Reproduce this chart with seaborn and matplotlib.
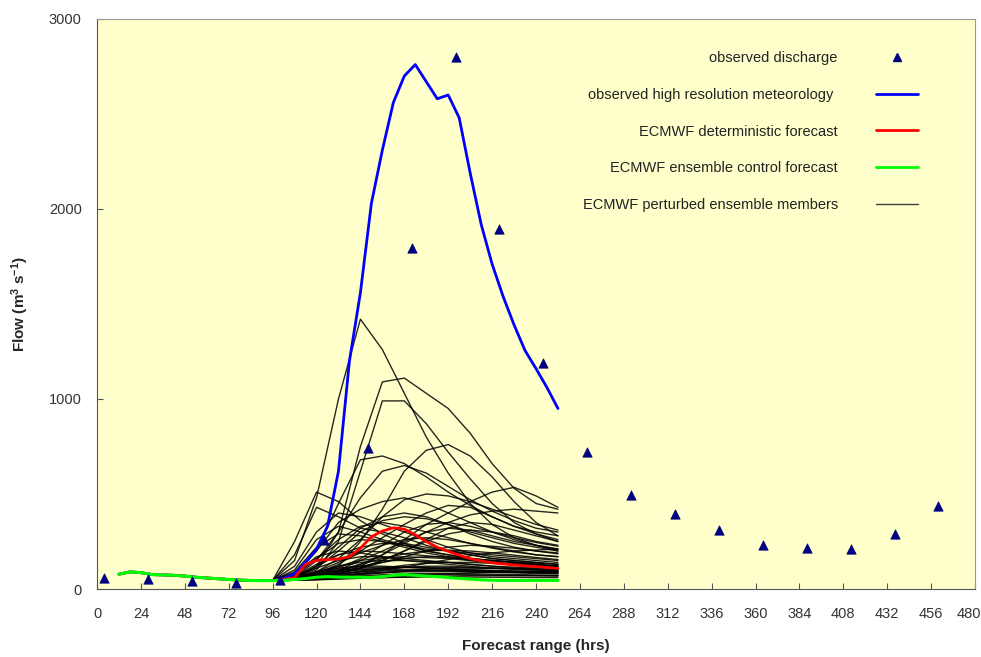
import numpy as np
import pandas as pd
import matplotlib
matplotlib.use("Agg")
import matplotlib.pyplot as plt
import matplotlib.transforms as mtransforms
from matplotlib.lines import Line2D
import seaborn as sns

# observed discharge (triangles)
obs_t = [4, 28, 52, 76, 100, 124, 148, 172, 196, 220, 244, 268, 292, 316, 340, 364, 388, 412, 436, 460]
obs_q = [58, 55, 42, 30, 48, 258, 742, 1796, 2800, 1896, 1191, 721, 495, 395, 310, 232, 216, 210, 289, 437]

# common spin-up part (12h - 90h)
base_t = [12, 18, 24, 30, 36, 42, 48, 54, 60, 66, 72, 78, 84, 90]
base_q = [78, 90, 86, 76, 74, 72, 68, 62, 58, 54, 50, 47, 45, 44]

# forecast part, 6-hourly
fc_t = [96, 102, 108, 114, 120, 126, 132, 138, 144, 150, 156, 162, 168, 174, 180,
        186, 192, 198, 204, 210, 216, 222, 228, 234, 240, 246, 252]
hires_q = [45, 55, 80, 140, 210, 330, 620, 1200, 1560, 2030, 2310, 2560, 2700, 2760, 2670,
           2580, 2600, 2480, 2190, 1920, 1710, 1540, 1390, 1255, 1160, 1060, 950]
determ_q = [45, 50, 60, 130, 150, 155, 158, 170, 215, 275, 305, 322, 315, 285, 250,
            220, 198, 178, 160, 148, 138, 132, 126, 122, 118, 113, 108]
control_q = [44, 45, 50, 55, 62, 65, 63, 62, 62, 60, 65, 72, 76, 72, 68,
             65, 60, 56, 52, 48, 46, 45, 45, 45, 45, 45, 45]

# perturbed ensemble members, 12-hourly
mem_t = [96, 108, 120, 132, 144, 156, 168, 180, 192, 204, 216, 228, 240, 252]
members = [
    [45, 150, 480, 1000, 1420, 1260, 1030, 800, 610, 450, 340, 270, 230, 200],
    [45, 60, 120, 300, 750, 1090, 1110, 1030, 950, 820, 660, 530, 450, 420],
    [45, 55, 100, 250, 620, 990, 990, 870, 720, 580, 450, 350, 290, 250],
    [45, 50, 70, 120, 250, 420, 620, 730, 760, 700, 590, 460, 350, 280],
    [45, 50, 60, 80, 120, 180, 260, 340, 400, 460, 510, 535, 490, 430],
    [45, 70, 200, 450, 680, 700, 660, 590, 510, 440, 380, 330, 300, 280],
    [45, 250, 510, 460, 360, 290, 240, 200, 180, 160, 150, 140, 130, 120],
    [45, 180, 430, 380, 320, 300, 270, 230, 200, 180, 160, 150, 140, 130],
    [45, 120, 300, 400, 380, 340, 300, 260, 220, 190, 170, 160, 150, 140],
    [45, 80, 200, 350, 420, 460, 480, 450, 400, 350, 300, 260, 230, 210],
    [45, 60, 150, 300, 480, 620, 650, 610, 540, 470, 410, 360, 320, 300],
    [45, 55, 90, 160, 260, 380, 470, 500, 490, 460, 420, 380, 340, 310],
    [45, 100, 260, 330, 300, 260, 230, 210, 200, 190, 180, 170, 160, 150],
    [45, 60, 110, 200, 300, 360, 380, 370, 340, 300, 270, 240, 220, 200],
    [45, 50, 80, 130, 200, 270, 340, 400, 440, 430, 380, 330, 290, 260],
    [45, 50, 60, 90, 130, 180, 240, 300, 350, 390, 410, 420, 410, 400],
    [45, 90, 220, 290, 280, 250, 220, 190, 170, 150, 140, 130, 120, 110],
    [45, 70, 160, 240, 260, 250, 230, 200, 180, 160, 150, 140, 130, 120],
    [45, 60, 120, 180, 220, 240, 240, 220, 200, 180, 160, 150, 140, 130],
    [45, 55, 90, 140, 190, 230, 260, 270, 260, 240, 220, 200, 180, 170],
    [45, 50, 70, 100, 150, 200, 250, 300, 320, 310, 280, 250, 230, 210],
    [45, 50, 60, 80, 110, 150, 200, 260, 320, 350, 340, 310, 280, 250],
    [45, 80, 170, 200, 190, 170, 150, 140, 130, 120, 110, 105, 100, 95],
    [45, 60, 110, 150, 170, 170, 160, 150, 140, 130, 120, 110, 105, 100],
    [45, 55, 90, 120, 140, 150, 150, 145, 140, 130, 120, 115, 110, 105],
    [45, 50, 70, 100, 120, 140, 160, 170, 170, 160, 150, 140, 130, 120],
    [45, 55, 75, 95, 110, 115, 115, 110, 105, 100, 95, 90, 88, 85],
    [45, 50, 65, 80, 90, 95, 100, 100, 98, 95, 92, 90, 88, 86],
    [45, 50, 60, 70, 80, 85, 90, 92, 92, 90, 88, 85, 82, 80],
    [45, 48, 55, 62, 70, 75, 80, 82, 82, 80, 78, 76, 74, 72],
    [45, 47, 52, 58, 63, 68, 72, 75, 76, 75, 73, 71, 70, 68],
    [45, 60, 90, 110, 120, 120, 115, 110, 105, 100, 96, 92, 90, 88],
    [45, 55, 80, 100, 105, 105, 100, 98, 95, 92, 90, 88, 85, 84],
    [45, 50, 60, 75, 90, 105, 115, 120, 120, 115, 110, 105, 100, 98],
    [45, 48, 55, 65, 75, 85, 95, 105, 110, 112, 110, 108, 105, 100],
    [45, 47, 50, 55, 60, 65, 70, 75, 80, 85, 88, 90, 92, 92],
    [45, 46, 48, 52, 56, 60, 63, 66, 68, 70, 70, 70, 70, 70],
    [45, 46, 50, 55, 58, 60, 62, 64, 64, 63, 62, 61, 60, 60],
    [45, 48, 58, 70, 80, 88, 94, 98, 100, 100, 98, 96, 94, 92],
    [45, 52, 70, 90, 100, 108, 112, 114, 112, 110, 108, 106, 104, 102],
    [45, 50, 62, 78, 95, 110, 125, 135, 140, 140, 135, 130, 125, 120],
    [45, 55, 85, 120, 150, 165, 170, 165, 160, 150, 140, 132, 126, 120],
    [45, 50, 70, 100, 130, 160, 185, 200, 205, 200, 190, 178, 166, 155],
    [45, 65, 130, 180, 200, 195, 185, 175, 165, 155, 148, 142, 136, 130],
    [45, 48, 56, 68, 82, 98, 115, 135, 155, 175, 190, 200, 205, 210],
    [45, 50, 65, 85, 110, 140, 170, 200, 220, 230, 225, 215, 200, 190],
    [45, 75, 160, 260, 330, 350, 330, 300, 270, 240, 215, 195, 180, 170],
    [45, 60, 120, 220, 320, 380, 400, 380, 340, 290, 250, 220, 200, 185],
    [45, 50, 60, 80, 110, 150, 200, 250, 290, 310, 300, 280, 250, 230],
    [45, 55, 75, 110, 160, 230, 300, 340, 350, 330, 300, 270, 245, 225],
]

labels = ["observed discharge", "observed high resolution meteorology ",
          "ECMWF deterministic forecast", "ECMWF ensemble control forecast",
          "ECMWF perturbed ensemble members"]

sns.set_style("ticks")
plt.rcParams["font.family"] = ["Liberation Sans", "DejaVu Sans"]
plt.rcParams["mathtext.fontset"] = "custom"
plt.rcParams["mathtext.rm"] = "Liberation Sans"
plt.rcParams["mathtext.bf"] = "Liberation Sans:bold"
plt.rcParams["mathtext.default"] = "bf"

rows = []
for i, m in enumerate(members):
    for t, q in zip(base_t + mem_t, base_q + m):
        rows.append((i, t, q))
ens = pd.DataFrame(rows, columns=["member", "t", "q"])

fig = plt.figure(figsize=(9.81, 6.57), dpi=100)
ax = fig.add_axes([0.0989, 0.1035, 0.8950, 0.8676])
ax.set_facecolor("#FFFFCC")

sns.lineplot(data=ens, x="t", y="q", units="member", estimator=None,
             color="#000000", lw=1.0, alpha=0.85, ax=ax, legend=False)
sns.lineplot(x=base_t + fc_t, y=base_q + hires_q, color="#0000FF", lw=2, ax=ax)
sns.lineplot(x=base_t + fc_t, y=base_q + determ_q, color="#FF0000", lw=2, ax=ax)
sns.lineplot(x=base_t + fc_t, y=base_q + control_q, color="#00FF00", lw=2.2, ax=ax)
sns.scatterplot(x=obs_t, y=obs_q, marker="^", s=45, color="#000080",
                edgecolor="#000080", ax=ax, zorder=5)

ax.set_xlim(0, 480)
ax.set_ylim(0, 3000)
ax.set_xticks(range(0, 481, 24))
ax.set_yticks([0, 1000, 2000, 3000])
ax.tick_params(direction="in", length=4, width=0.8, color="#555555",
               labelsize=10.5, labelcolor="#333333")
ax.tick_params(axis="x", pad=13)
ax.tick_params(axis="y", pad=11)
for s in ax.spines.values():
    s.set_color("#999999")
    s.set_linewidth(0.8)
ax.spines["left"].set_color("#555555")
ax.spines["bottom"].set_color("#555555")

# keep the last x tick label inside the canvas
last = ax.get_xticklabels()[-1]
last.set_transform(last.get_transform() + mtransforms.ScaledTranslation(-6 / 100, 0, fig.dpi_scale_trans))

ax.set_xlabel("Forecast range (hrs)", fontsize=11, fontweight="bold", labelpad=13)
ax.set_ylabel("Flow (m$^{3}$ s$^{-1}$)", fontsize=11, fontweight="bold", labelpad=13)

handles = [
    Line2D([], [], ls="none", marker="^", ms=6, color="#000080"),
    Line2D([], [], color="#0000FF", lw=2),
    Line2D([], [], color="#FF0000", lw=2),
    Line2D([], [], color="#00FF00", lw=2),
    Line2D([], [], color="#404040", lw=1),
]
ax.legend(handles, labels, markerfirst=False, frameon=False, loc="upper right",
          bbox_to_anchor=(918 / 981, 1 - 51 / 657), bbox_transform=fig.transFigure,
          borderaxespad=0, borderpad=0, fontsize=10.5, labelspacing=1.56,
          handlelength=2.9, handletextpad=2.6, labelcolor="#222222")

fig.savefig("out.png", dpi=100)
